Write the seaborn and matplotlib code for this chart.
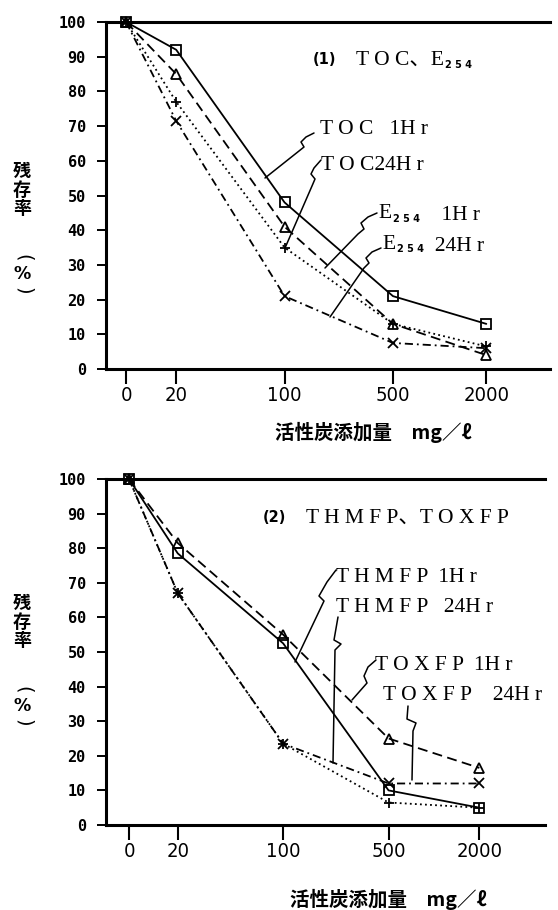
import matplotlib
matplotlib.use("Agg")
import matplotlib.pyplot as plt
import pandas as pd
import seaborn as sns
from matplotlib import font_manager as fm
from matplotlib.lines import Line2D
from matplotlib.ticker import NullLocator

# ---- data -------------------------------------------------------------
doses = [0, 20, 100, 500, 2000]
dose_labels = ["0", "20", "100", "500", "2000"]

# (1) TOC / E254 residual ratio (%)
toc_1hr = [100, 92, 48, 21, 13]
toc_24hr = [100, 77, 35, 13, 6.5]
e254_1hr = [100, 85, 41, 13, 4]
e254_24hr = [100, 71.5, 21, 7.5, 6]

# (2) THMFP / TOXFP residual ratio (%)
thmfp_1hr = [100, 78.5, 52.5, 10, 5]
thmfp_24hr = [100, 67, 23.5, 6.5, 5]
toxfp_1hr = [100, 81.5, 55, 25, 16.5]
toxfp_24hr = [100, 67, 23.5, 12, 12]

series_top = ["TOC 1Hr", "TOC 24Hr", "E254 1Hr", "E254 24Hr"]
series_bottom = ["THMFP 1Hr", "THMFP 24Hr", "TOXFP 1Hr", "TOXFP 24Hr"]


def long_frame(names, columns):
    rows = []
    for name, vals in zip(names, columns):
        for d, v in zip(doses, vals):
            rows.append({"series": name, "dose": d, "residual": v})
    return pd.DataFrame(rows)


df_top = long_frame(series_top, [toc_1hr, toc_24hr, e254_1hr, e254_24hr])
df_bottom = long_frame(series_bottom, [thmfp_1hr, thmfp_24hr, toxfp_1hr, toxfp_24hr])

# ---- fonts ------------------------------------------------------------
sns.set_theme(style="white")
plt.rcParams["font.family"] = ["DejaVu Sans", "Noto Sans CJK JP"]

# condensed face for the dose labels when one is installed
_cond = fm.FontProperties(family="DejaVu Sans", stretch="condensed")
if "Condensed" in fm.findfont(_cond):
    TICK_FONT = dict(family="DejaVu Sans", stretch="condensed", size=14.5)
else:
    TICK_FONT = dict(family="Liberation Sans", size=14.5)

SERIF = ["Liberation Serif", "Noto Sans CJK JP"]
CJK = ["Noto Sans CJK JP", "DejaVu Sans"]
MONO = "DejaVu Sans Mono"

# ---- figure -----------------------------------------------------------
W, H = 558, 910
fig = plt.figure(figsize=(W / 100, H / 100), dpi=100)
fig.patch.set_facecolor("white")


def fx(x):
    return x / W


def fy(y):
    return 1 - y / H


ax1 = fig.add_axes([fx(106), fy(369), fx(550) - fx(106), fy(22) - fy(369)])
ax2 = fig.add_axes([fx(106), fy(825), fx(545) - fx(106), fy(479) - fy(825)])

markers = ["s", "+", "^", "x"]
dashes = ["", (1.0, 1.8), (5.5, 3.0), (4.5, 2.2, 1.0, 2.2)]


def draw(ax, frame, order, xlim):
    sns.lineplot(
        data=frame, x="dose", y="residual", hue="series", style="series",
        hue_order=order, style_order=order,
        palette={s: "black" for s in order},
        markers=False,
        dashes=dict(zip(order, dashes)),
        linewidth=1.3, legend=False, sort=False, ax=ax,
    )
    # seaborn draws one line per series, in hue order
    for ln, mk in zip(ax.get_lines(), markers):
        ln.set_marker(mk)
        ln.set_markersize(7.5)
        ln.set_markerfacecolor("none")
        ln.set_markeredgecolor("black")
        ln.set_markeredgewidth(1.3)
        ln.set_clip_on(False)

    ax.set_xscale("symlog", linthresh=10, linscale=0.02)
    ax.set_xlim(*xlim)
    ax.set_ylim(0, 100)
    ax.set_xticks(doses, dose_labels)
    ax.xaxis.set_minor_locator(NullLocator())
    ax.set_yticks(range(0, 101, 10))
    ax.set_xlabel("")
    ax.set_ylabel("")
    ax.set_facecolor("white")
    ax.grid(False)

    ax.spines["right"].set_visible(False)
    for side in ("left", "top", "bottom"):
        ax.spines[side].set_visible(True)
        ax.spines[side].set_color("black")
        ax.spines[side].set_linewidth(2.2)

    ax.tick_params(axis="y", direction="out", length=6.5, width=1.4,
                   pad=8, colors="black", left=True)
    ax.tick_params(axis="x", direction="out", length=10.5, width=1.5,
                   pad=1.5, colors="black", bottom=True)
    for lab in ax.get_yticklabels():
        lab.set_fontfamily(MONO)
        lab.set_fontweight("bold")
        lab.set_fontsize(11)
    for lab in ax.get_xticklabels():
        lab.set_fontproperties(fm.FontProperties(**TICK_FONT))


draw(ax1, df_top, series_top, (-12.8, 5150))
draw(ax2, df_bottom, series_bottom, (-13.5, 5450))


# ---- text helpers -----------------------------------------------------
def rich(ax, x, y, parts):
    """Place a run of text pieces starting at figure pixel (x, y)."""
    prev = None
    for text, props, dx, dy in parts:
        if prev is None:
            prev = ax.annotate(text, xy=(fx(x), fy(y)), xycoords="figure fraction",
                               ha="left", va="center", annotation_clip=False, **props)
        else:
            prev = ax.annotate(text, xy=(1, 0), xycoords=prev,
                               xytext=(dx, dy), textcoords="offset points",
                               ha="left", va="bottom", annotation_clip=False, **props)
    return prev


serif = dict(family=SERIF, fontsize=15.5, color="black")
sub = dict(family="DejaVu Sans", fontsize=7, fontweight="bold", color="black")
tag = dict(family="DejaVu Sans", fontsize=10.5, fontweight="bold", color="black")

# panel titles
rich(ax1, 313, 60, [("(1)", tag, 0, 0), ("T O C、E", serif, 14, -1.5),
                    ("2 5 4", sub, 0.5, 0)])
rich(ax2, 263, 518, [("(2)", tag, 0, 0), ("T H M F P、T O X F P", serif, 14, -1.5)])

# series labels, top panel
rich(ax1, 320, 130, [("T O C   1H r", serif, 0, 0)])
rich(ax1, 321, 166, [("T O C24H r", serif, 0, 0)])
rich(ax1, 378, 214, [("E", serif, 0, 0), ("2 5 4", sub, 1, 0), ("    1H r", serif, 0, -1)])
rich(ax1, 382, 245, [("E", serif, 0, 0), ("2 5 4", sub, 1, 0), ("  24H r", serif, 0, -1)])

# series labels, bottom panel
rich(ax2, 336, 577, [("T H M F P  1H r", serif, 0, 0)])
rich(ax2, 336, 607, [("T H M F P   24H r", serif, 0, 0)])
rich(ax2, 375, 666, [("T O X F P  1H r", serif, 0, 0)])
rich(ax2, 383, 695, [("T O X F P    24H r", serif, 0, 0)])

# leader lines (figure pixel coordinates)
leaders = [
    [(314, 133), (306, 137), (301, 142), (304, 147), (299, 151), (265, 178)],
    [(321, 160), (314, 168), (311, 174), (315, 179), (312, 186), (285, 248)],
    [(377, 213), (368, 217), (361, 223), (364, 229), (358, 234), (325, 268)],
    [(381, 248), (372, 252), (366, 258), (369, 263), (364, 268), (330, 317)],
    [(336, 570), (327, 582), (319, 596), (324, 601), (295, 662)],
    [(338, 617), (334, 640), (341, 644), (335, 650), (333, 763)],
    [(376, 660), (368, 667), (364, 676), (367, 683), (352, 700)],
    [(408, 706), (407, 719), (416, 723), (413, 731), (412, 780)],
]
for pts in leaders:
    fig.add_artist(Line2D([fx(p[0]) for p in pts], [fy(p[1]) for p in pts],
                          transform=fig.transFigure, color="black", lw=1.1))

# axis titles (vertical writing)
for y0 in (0, 432):
    for ch, yc in zip("残存率", (171, 190, 209)):
        fig.text(fx(22), fy(yc + y0), ch, family=CJK, fontsize=13, fontweight="bold",
                 ha="center", va="center", color="black")
    fig.text(fx(23), fy(258 + y0), "(", family="DejaVu Sans", fontsize=14,
             rotation=-90, ha="center", va="center", color="black")
    fig.text(fx(22), fy(274 + y0), "%", family="DejaVu Sans", fontsize=12.5,
             fontweight="bold", ha="center", va="center", color="black")
    fig.text(fx(23), fy(291 + y0), ")", family="DejaVu Sans", fontsize=14,
             rotation=-90, ha="center", va="center", color="black")

fig.text(fx(275), fy(432), "活性炭添加量　mg／ℓ", family=CJK, fontsize=14,
         fontweight="bold", ha="left", va="center", color="black")
fig.text(fx(290), fy(899), "活性炭添加量　mg／ℓ", family=CJK, fontsize=14,
         fontweight="bold", ha="left", va="center", color="black")

fig.savefig("out.png", dpi=100, facecolor="white")
